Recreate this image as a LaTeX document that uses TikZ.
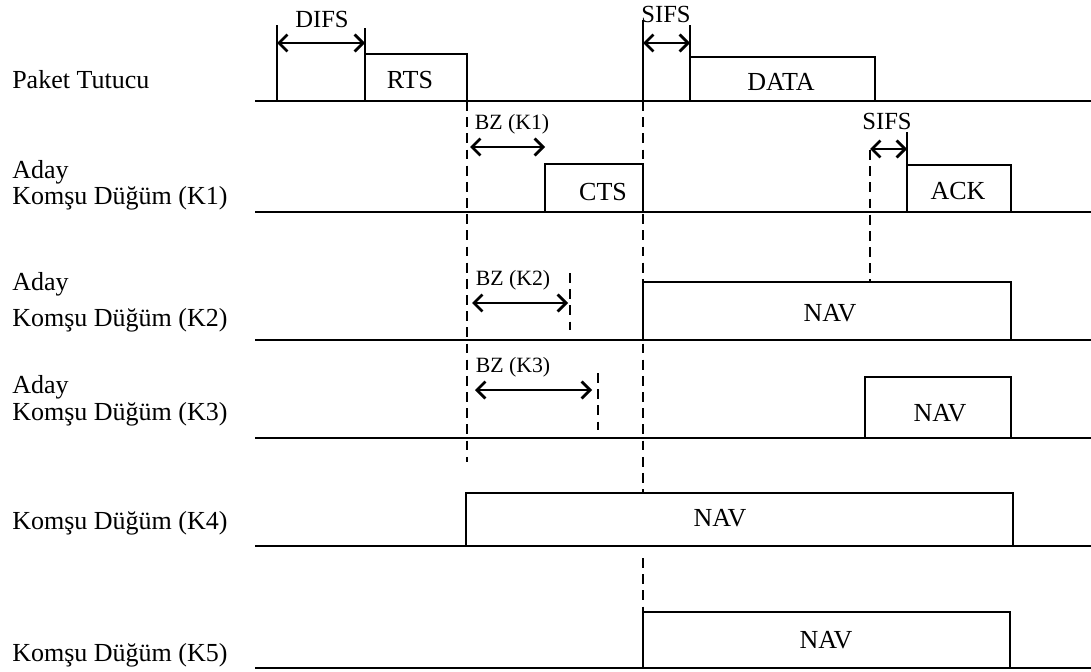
\documentclass[tikz,border=0pt]{standalone}
\usepackage{fontspec}
\setmainfont{Liberation Serif}
\usetikzlibrary{arrows.meta}

\begin{document}
\begin{tikzpicture}[x=0.025cm, y=-0.025cm, >={Straight Barb[length=6pt,width=12pt]},
  every node/.style={font=\fontsize{18.5}{20}\selectfont, inner sep=0pt},
  hat/.style={line width=2pt},
  kesik/.style={line width=2pt, dash pattern=on 7pt off 4.5pt},
  etiket/.style={anchor=west},
  aralik/.style={font=\fontsize{17.5}{18}\selectfont},
  bz/.style={font=\fontsize{15.5}{16}\selectfont}]

  \useasboundingbox (0,0) rectangle (1091,671);

  % 1. Zaman eksenleri
  \foreach \y in {101,212,340,438,546,668}
    \draw[hat] (255,\y) -- (1091,\y);

  % 2. Satir adlari
  \node[etiket] (paket) at (12,80) {Paket Tutucu};
  \node[etiket] (aday1) at (12,172) {Aday};
  \node[etiket] (k1) at (12,198) {Komşu Düğüm (K1)};
  \node[etiket] (aday2) at (12,284) {Aday};
  \node[etiket] (k2) at (12,320) {Komşu Düğüm (K2)};
  \node[etiket] (aday3) at (12,387) {Aday};
  \node[etiket] (k3) at (12,414) {Komşu Düğüm (K3)};
  \node[etiket] (k4) at (12,523) {Komşu Düğüm (K4)};
  \node[etiket] (k5) at (12,655) {Komşu Düğüm (K5)};

  % 3. Paket Tutucu: DIFS, RTS, SIFS, DATA
  \draw[hat] (277,101) -- (277,25);
  \draw[hat] (365,28) -- (365,101);
  \draw[hat] (365,54) -- (467,54) -- (467,101);
  \draw[hat,<->] (277,43) -- (365,43);
  \node[aralik] (difs) at (322,19) {DIFS};
  \node (rts) at (410,80) {RTS};

  \draw[hat] (643,101) -- (643,20);
  \draw[hat] (690,25) -- (690,101);
  \draw[hat] (690,57) -- (875,57) -- (875,101);
  \draw[hat,<->] (643,43) -- (690,43);
  \node[aralik] (sifs1) at (666,14) {SIFS};
  \node (data) at (781,82) {DATA};

  % 4. K1: BZ, CTS, SIFS, ACK
  \node[bz] (bz1) at (512,124) {BZ (K1)};
  \draw[hat,<->] (470,147) -- (545,147);
  \draw[hat] (545,212) -- (545,164) -- (643,164) -- (643,212);
  \node (cts) at (603,192) {CTS};

  \node[aralik] (sifs2) at (887,121) {SIFS};
  \draw[hat,<->] (870,149) -- (907,149);
  \draw[hat] (907,132) -- (907,212);
  \draw[hat] (907,165) -- (1011,165) -- (1011,212);
  \node (ack) at (958,191) {ACK};
  \draw[kesik] (870,150) -- (870,282);

  % 5. K2: BZ, NAV
  \node[bz] (bz2) at (513,280) {BZ (K2)};
  \draw[hat,<->] (472,303) -- (568,303);
  \draw[kesik] (570,273) -- (570,330);
  \draw[hat] (643,340) -- (643,282) -- (1011,282) -- (1011,340);
  \node (nav2) at (830,313) {NAV};

  % 6. K3: BZ, NAV
  \node[bz] (bz3) at (513,367) {BZ (K3)};
  \draw[hat,<->] (475,390) -- (592,390);
  \draw[kesik] (598,373) -- (598,430);
  \draw[hat] (865,438) -- (865,377) -- (1011,377) -- (1011,438);
  \node (nav3) at (940,413) {NAV};

  % 7. K4 ve K5: NAV
  \draw[hat] (466,546) -- (466,493) -- (1013,493) -- (1013,546);
  \node (nav4) at (720,518) {NAV};
  \draw[hat] (643,668) -- (643,612) -- (1010,612) -- (1010,668);
  \node (nav5) at (826,640) {NAV};

  % 8. Kesikli zaman cizgileri
  \draw[kesik] (467,101) -- (467,462);
  \draw[kesik] (643,101) -- (643,493);
  \draw[kesik] (643,558) -- (643,612);

\end{tikzpicture}
\end{document}
